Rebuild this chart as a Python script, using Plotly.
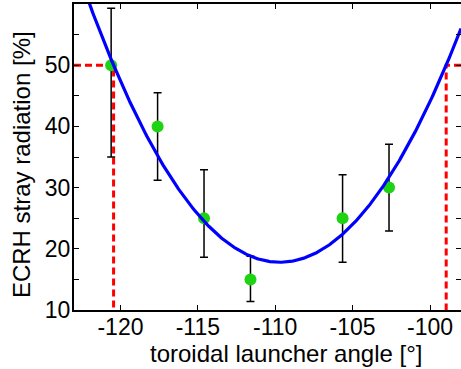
import numpy as np
import plotly.graph_objects as go

# ---- data ----
angles = [-120.6, -117.6, -114.6, -111.6, -105.65, -102.65]
stray = [50, 40, 25, 15, 25, 30]
err_plus = [9.3, 5.5, 7.9, 3.8, 7.1, 7.1]
err_minus = [15.0, 8.8, 6.4, 3.6, 7.2, 7.1]

# parabolic fit parameters (vertex and curvature)
fit_x0 = -109.7
fit_y0 = 17.8
fit_a = 0.279
threshold = 50

x_range = [-123, -98]
y_range = [10, 60]
x_ticks = [-120, -115, -110, -105, -100]
x_ticklabels = ["-120", "-115", "-110", "-105", "-100"]
y_ticks = [10, 15, 20, 25, 30, 35, 40, 45, 50, 55, 60]
y_ticklabels = ["10", "", "20", "", "30", "", "40", "", "50", "", ""]

fit_x = np.linspace(x_range[0], x_range[1], 400)
fit_y = fit_y0 + fit_a * (fit_x - fit_x0) ** 2
half = np.sqrt((threshold - fit_y0) / fit_a)
cross_left = fit_x0 - half
cross_right = fit_x0 + half

RED = "rgb(255,0,0)"
dash = "7px,4px"
font = "Liberation Sans, Arial, sans-serif"

fig = go.Figure()
# red dashed threshold markers
fig.add_trace(go.Scatter(x=[x_range[0], cross_left, cross_left], y=[threshold, threshold, y_range[0]],
                         mode="lines", line=dict(color=RED, width=3, dash=dash), hoverinfo="skip"))
fig.add_trace(go.Scatter(x=[x_range[1], cross_right, cross_right], y=[threshold, threshold, y_range[0]],
                         mode="lines", line=dict(color=RED, width=3, dash=dash), hoverinfo="skip"))
# measured points with error bars
fig.add_trace(go.Scatter(x=angles, y=stray, mode="markers",
                         marker=dict(color="rgb(30,210,20)", size=12),
                         error_y=dict(type="data", symmetric=False, array=err_plus, arrayminus=err_minus,
                                      color="black", thickness=1.5, width=4)))
# fit curve
fig.add_trace(go.Scatter(x=fit_x, y=fit_y, mode="lines", line=dict(color="rgb(0,0,255)", width=3.2)))
# invisible trace for right-hand tick axis
fig.add_trace(go.Scatter(x=[x_range[0]], y=[y_range[0]], yaxis="y2", mode="markers",
                         marker=dict(opacity=0), hoverinfo="skip"))

fig.update_layout(
    width=461, height=369,
    margin=dict(l=74, r=0, t=4, b=59),
    paper_bgcolor="white", plot_bgcolor="white",
    showlegend=False,
    font=dict(family=font, size=23, color="black"),
    xaxis=dict(range=x_range, tickvals=x_ticks, ticktext=x_ticklabels, ticks="inside", ticklen=5,
               tickwidth=1, tickcolor="black", showline=True, linecolor="black", linewidth=2,
               mirror="ticks", showgrid=False, zeroline=False, tickfont=dict(size=23),
               ticklabelstandoff=-5),
    yaxis=dict(range=y_range, tickvals=y_ticks, ticktext=y_ticklabels, ticks="inside", ticklen=5,
               tickwidth=1, tickcolor="black", showline=True, linecolor="black", linewidth=2,
               showgrid=False, zeroline=False, tickfont=dict(size=23), ticklabelstandoff=-3),
    yaxis2=dict(range=y_range, tickvals=y_ticks, overlaying="y", side="right", ticks="inside",
                ticklen=5, tickwidth=1, tickcolor="black", showline=False, showticklabels=False,
                showgrid=False, zeroline=False),
    annotations=[
        dict(text="toroidal launcher angle [°]", xref="paper", yref="paper", x=0.548, y=-0.142,
             xanchor="center", yanchor="middle", showarrow=False, font=dict(size=24)),
        dict(text="ECRH stray radiation [%]", xref="paper", yref="paper", x=-0.134, y=0.474,
             xanchor="center", yanchor="middle", textangle=-90, showarrow=False, font=dict(size=24)),
    ],
)

fig.write_html("out.html", config={"displayModeBar": False},
               post_script="document.body.style.margin='0';")
